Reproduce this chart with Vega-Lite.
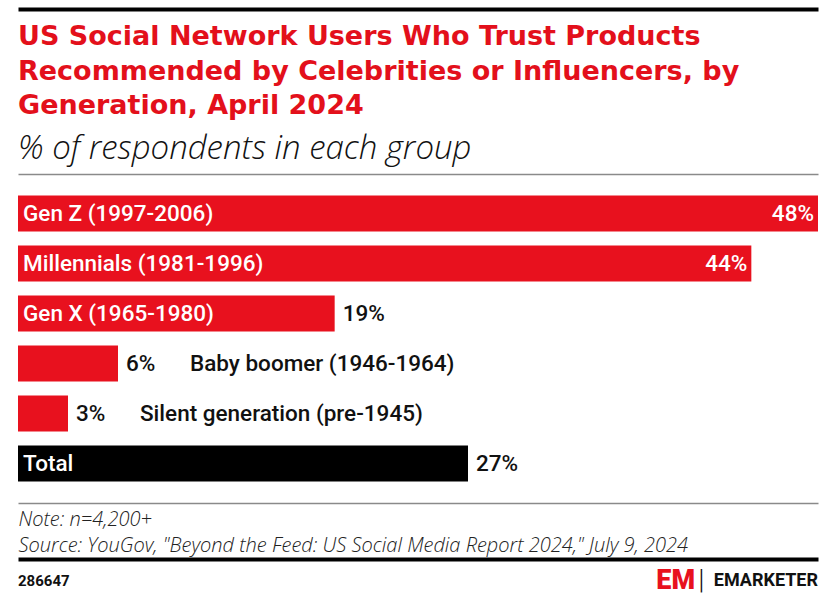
{
  "$schema": "https://vega.github.io/schema/vega-lite/v6.json",
  "background": "white",
  "padding": {"left": 18, "right": 16, "top": 8, "bottom": 0},
  "spacing": 4,
  "config": {"font": "Roboto", "view": {"stroke": null}},
  "datasets": {
    "bars": [
      {"group": "Gen Z (1997-2006)", "value": 0.48, "kind": "generation"},
      {"group": "Millennials (1981-1996)", "value": 0.44, "kind": "generation"},
      {"group": "Gen X (1965-1980)", "value": 0.19, "kind": "generation"},
      {"group": "Baby boomer (1946-1964)", "value": 0.06, "kind": "generation"},
      {"group": "Silent generation (pre-1945)", "value": 0.03, "kind": "generation"},
      {"group": "Total", "value": 0.27, "kind": "total"}
    ],
    "footer": [
      {"text": "286647", "pos": 0, "part": "id"},
      {"text": "EM", "pos": 38.3, "part": "logo"},
      {"text": "|", "pos": 41.0, "part": "divider"},
      {"text": "EMARKETER", "pos": 48, "part": "brand"}
    ]
  },
  "vconcat": [
    {
      "width": 800,
      "height": 10,
      "data": {"name": "bars"},
      "mark": {"type": "text", "text": ""},
      "encoding": {
        "x": {
          "datum": 0,
          "type": "quantitative",
          "scale": {"domain": [0, 0.48], "nice": false},
          "axis": {"orient": "top", "domainColor": "#000000", "domainWidth": 4, "labels": false, "ticks": false, "grid": false, "title": null}
        }
      }
    },
    {
      "width": 800,
      "height": 329,
      "data": {"name": "bars"},
      "title": {
        "text": ["US Social Network Users Who Trust Products", "Recommended by Celebrities or Influencers, by", "Generation, April 2024"],
        "subtitle": "% of respondents in each group",
        "anchor": "start",
        "frame": "group",
        "color": "#E3101B",
        "font": "DejaVu Sans",
        "fontSize": 27,
        "fontWeight": "bold",
        "lineHeight": 34.5,
        "subtitleFont": "Open Sans",
        "subtitleFontSize": 33,
        "subtitleFontStyle": "italic",
        "subtitleFontWeight": 300,
        "subtitleColor": "#111111",
        "subtitlePadding": 13,
        "offset": 7
      },
      "encoding": {
        "y": {
          "field": "group",
          "type": "nominal",
          "sort": null,
          "axis": null,
          "scale": {"paddingInner": 0.28, "paddingOuter": 0.43}
        }
      },
      "resolve": {"axis": {"x": "independent"}},
      "layer": [
        {
          "mark": {"type": "bar"},
          "encoding": {
            "x": {
              "field": "value",
              "type": "quantitative",
              "scale": {"domain": [0, 0.48], "nice": false},
              "axis": {"orient": "top", "domainColor": "#8a8a8a", "domainWidth": 1.5, "labels": false, "ticks": false, "grid": false, "title": null}
            },
            "color": {
              "field": "kind",
              "type": "nominal",
              "scale": {"domain": ["generation", "total"], "range": ["#E8111E", "#000000"]},
              "legend": null
            }
          }
        },
        {
          "transform": [{"filter": "datum.value >= 0.19"}],
          "mark": {"type": "text", "align": "left", "baseline": "middle", "dx": 5, "color": "white", "fontSize": 22.5, "fontWeight": 500},
          "encoding": {
            "x": {"datum": 0, "type": "quantitative", "axis": null},
            "text": {"field": "group"}
          }
        },
        {
          "transform": [{"filter": "datum.value > 0.4"}],
          "mark": {"type": "text", "align": "right", "baseline": "middle", "dx": -4, "color": "white", "fontSize": 22.5, "fontWeight": 500},
          "encoding": {
            "x": {"field": "value", "type": "quantitative", "axis": null},
            "text": {"field": "value", "type": "quantitative", "format": ".0%"}
          }
        },
        {
          "transform": [{"filter": "datum.value <= 0.4"}],
          "mark": {"type": "text", "align": "left", "baseline": "middle", "dx": 8, "color": "#111111", "fontSize": 22.5, "fontWeight": 500},
          "encoding": {
            "x": {
              "field": "value",
              "type": "quantitative",
              "axis": {
                "orient": "bottom",
                "domainColor": "#8a8a8a",
                "domainWidth": 1.5,
                "labels": false,
                "ticks": false,
                "grid": false,
                "title": ["Note: n=4,200+", "Source: YouGov, \"Beyond the Feed: US Social Media Report 2024,\" July 9, 2024"],
                "titleAnchor": "start",
                "titleAlign": "left",
                "titleFont": "Open Sans",
                "titleFontSize": 20,
                "titleFontStyle": "italic",
                "titleFontWeight": 300,
                "titleColor": "#222222",
                "titleLineHeight": 26,
                "titlePadding": 6
              }
            },
            "text": {"field": "value", "type": "quantitative", "format": ".0%"}
          }
        },
        {
          "transform": [{"filter": "datum.value < 0.1"}],
          "mark": {"type": "text", "align": "left", "baseline": "middle", "dx": 72, "color": "#111111", "fontSize": 22.5, "fontWeight": 500},
          "encoding": {
            "x": {"field": "value", "type": "quantitative", "axis": null},
            "text": {"field": "group"}
          }
        }
      ]
    },
    {
      "width": 800,
      "height": 44,
      "data": {"name": "footer"},
      "resolve": {"axis": {"x": "independent"}},
      "layer": [
        {
          "transform": [{"filter": "datum.part == 'id'"}],
          "mark": {"type": "text", "align": "left", "baseline": "middle", "fontSize": 15, "fontWeight": "bold", "color": "#111111"},
          "encoding": {
            "x": {
              "field": "pos",
              "type": "quantitative",
              "scale": {"domain": [0, 48], "nice": false},
              "axis": {"orient": "top", "domainColor": "#000000", "domainWidth": 4, "labels": false, "ticks": false, "grid": false, "title": null}
            },
            "text": {"field": "text"}
          }
        },
        {
          "transform": [{"filter": "datum.part == 'logo'"}],
          "mark": {"type": "text", "align": "left", "baseline": "middle", "fontSize": 27, "fontWeight": 900, "color": "#E8111E"},
          "encoding": {
            "x": {"field": "pos", "type": "quantitative", "axis": null},
            "text": {"field": "text"}
          }
        },
        {
          "transform": [{"filter": "datum.part == 'divider'"}],
          "mark": {"type": "text", "align": "center", "baseline": "middle", "fontSize": 28, "fontWeight": 300, "color": "#111111"},
          "encoding": {
            "x": {"field": "pos", "type": "quantitative", "axis": null},
            "text": {"field": "text"}
          }
        },
        {
          "transform": [{"filter": "datum.part == 'brand'"}],
          "mark": {"type": "text", "align": "right", "baseline": "middle", "fontSize": 18, "fontWeight": "bold", "color": "#111111"},
          "encoding": {
            "x": {"field": "pos", "type": "quantitative", "axis": null},
            "text": {"field": "text"}
          }
        }
      ]
    }
  ]
}
